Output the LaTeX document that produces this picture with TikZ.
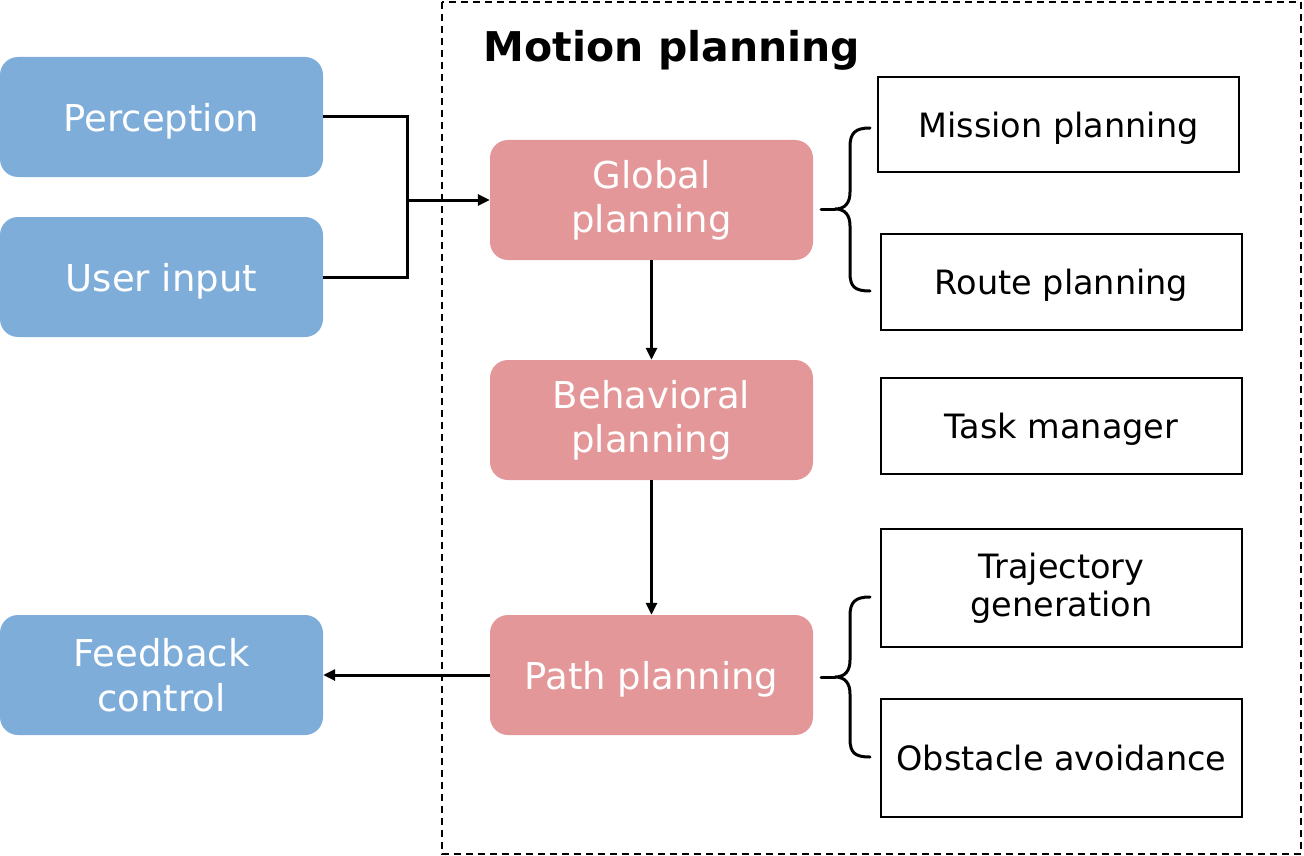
\documentclass[tikz,border=0pt]{standalone}
\usepackage{fontspec}
\setmainfont{DejaVu Sans}
\usetikzlibrary{arrows.meta}
\definecolor{blueb}{HTML}{7EADDA}
\definecolor{pinkb}{HTML}{E39799}
\tikzset{
  bluebox/.style={fill=blueb, draw=none, rounded corners=18pt, minimum width=323pt, minimum height=120pt, text=white, align=center, font=\fontsize{37}{45}\selectfont, inner sep=0pt},
  pinkbox/.style={fill=pinkb, draw=none, rounded corners=18pt, minimum width=323pt, minimum height=120pt, text=white, align=center, font=\fontsize{37}{44}\selectfont, inner sep=0pt},
  whitebox/.style={draw=black, line width=2.2pt, fill=white, minimum width=361pt, minimum height=96pt, align=center, font=\fontsize{33.5}{38}\selectfont, inner sep=0pt},
  oneline/.style={text depth=0pt},
  conn/.style={line width=3pt, draw=black},
  arr/.style={conn, -{Triangle[length=12pt,width=11pt]}},
  bracestyle/.style={line width=3pt, draw=black, line cap=round},
}
\begin{document}
\begin{tikzpicture}[x=1pt,y=-1pt]
\useasboundingbox (0,0) rectangle (1304,856);
% dashed frame
\draw[line width=1.8pt, dash pattern=on 7pt off 5pt] (442,2) rectangle (1301,854);
\node[font=\fontsize{41}{48}\selectfont\bfseries, oneline] (title) at (672,46) {Motion planning};
% left boxes
\node[bluebox, oneline] (perc) at (161.5,117) {Perception};
\node[bluebox, oneline] (user) at (161.5,277) {User input};
\node[bluebox] (feed) at (161.5,675) {Feedback\\control};
% pink boxes
\node[pinkbox] (glob) at (651.5,200) {Global\\planning};
\node[pinkbox] (behv) at (651.5,420) {Behavioral\\planning};
\node[pinkbox, oneline] (path) at (651.5,675) {Path planning};
% white boxes
\node[whitebox, oneline, minimum height=95pt] (miss) at (1058.5,124.5) {Mission planning};
\node[whitebox, oneline] (route) at (1061.5,282) {Route planning};
\node[whitebox, oneline] (task) at (1061.5,426) {Task manager};
\node[whitebox, minimum height=118pt] (traj) at (1061.5,588) {Trajectory\\generation};
\node[whitebox, minimum height=118pt] (obst) at (1061.5,758) {Obstacle avoidance};
% connectors
\coordinate (j) at (407,200);
\draw[conn] (perc.east) -| (j);
\draw[conn] (user.east) -| (j);
\draw[arr] (j) -- (glob.west);
\draw[arr] (glob.south) -- (behv.north);
\draw[arr] (behv.south) -- (path.north);
\draw[arr] (path.west) -- (feed.east);
% braces
\coordinate (g0) at (821,209);
\draw[bracestyle] (g0) -- (835,209);
\draw[bracestyle] (870,128) .. controls (855,128) and (850,133) .. (850,147)
  -- (850,192) .. controls (850,203) and (845,209) .. (835,209)
  .. controls (845,209) and (850,215) .. (850,226)
  -- (850,273) .. controls (850,287) and (855,291) .. (870,291);
\coordinate (p0) at (821,677);
\draw[bracestyle] (p0) -- (835,677);
\draw[bracestyle] (870,597) .. controls (855,597) and (850,602) .. (850,616)
  -- (850,660) .. controls (850,671) and (845,677) .. (835,677)
  .. controls (845,677) and (850,683) .. (850,694)
  -- (850,739) .. controls (850,753) and (855,757) .. (870,757);
\end{tikzpicture}
\end{document}
